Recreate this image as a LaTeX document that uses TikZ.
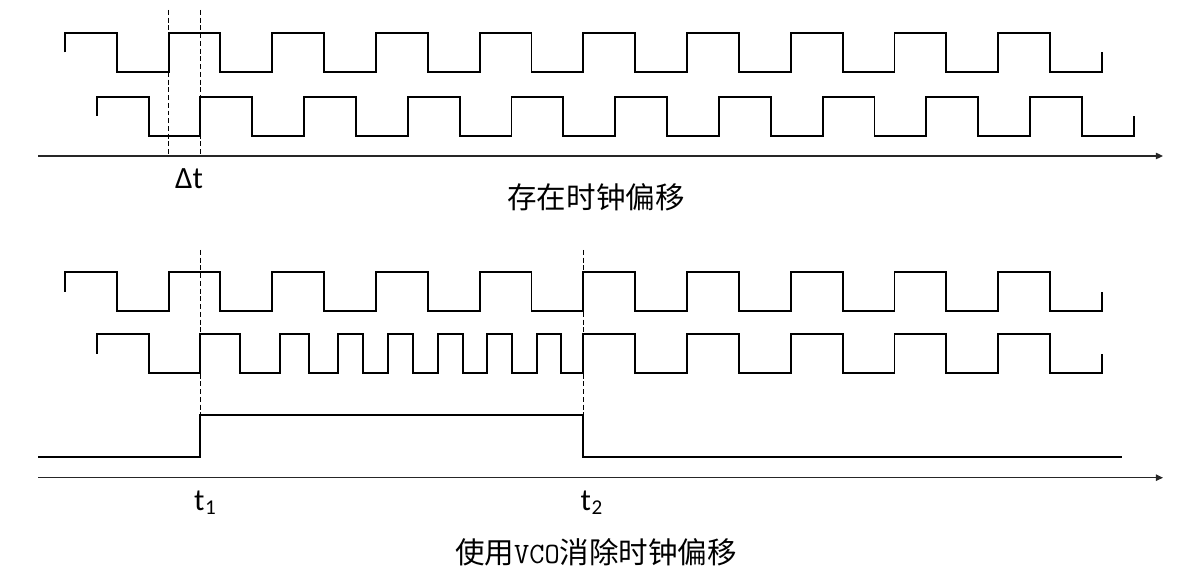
\documentclass[tikz,border=0pt]{standalone}
\usepackage{fontspec}
\setmainfont{Carlito}
\newfontfamily\cjk{Noto Sans CJK SC}
\usetikzlibrary{arrows.meta}
\newcommand{\hp}{51.85}
\newcommand{\tone}{200.4}
\newcommand{\ttwo}{583.35}
\newcommand{\tsub}[1]{\kern0.02em\raisebox{-0.14em}{\fontsize{15}{16}\selectfont #1}}
\tikzset{
  wave/.style={line width=1.35pt, black, line join=miter},
  axis/.style={line width=0.9pt, black!85, -{Triangle[length=5pt,width=4.5pt]}},
  guide/.style={line width=0.6pt, dash pattern=on 3.5pt off 2pt},
  tlabel/.style={font=\fontsize{22}{24}\selectfont, inner sep=0pt},
  caption/.style={font=\cjk\fontsize{21}{24}\selectfont, inner sep=0pt},
}
% n periods from a high level, then a last high/low pair and a half stub
\newcommand{\clkrun}[1]{%
  \foreach \k in {1,...,#1} { -- ++(\hp,0) -- ++(0,39) -- ++(\hp,0) -- ++(0,-39) }
  -- ++(\hp,0) -- ++(0,39) -- ++(\hp,0) -- ++(0,-19.5)}

\begin{document}
\begin{tikzpicture}[x=0.025cm, y=-0.025cm]
  \useasboundingbox (0,0) rectangle (1200,576);

  % ── With clock skew ───────────────────────────────────────────────────────
  \draw[wave] (64.85,52.5) -- (64.85,33) \clkrun{9};
  \draw[wave] (96.7,116) -- (96.7,96.7) \clkrun{9};

  \draw[guide] (168.55,10) -- (168.55,156);
  \draw[guide] (\tone,10) -- (\tone,156);

  \draw[axis] (38,156) -- (1163,156);
  \node[tlabel] (dt) at (189,179) {Δt};
  \node[caption] (skew) at (596,197.5) {存在时钟偏移};

  % ── With VCO correction ───────────────────────────────────────────────────
  \draw[wave] (64.85,291.8) -- (64.85,272.3) \clkrun{9};
  \draw[wave] (96.7,353.8) -- (96.7,334.3)
    \foreach \x/\y in {148.55/373.3, \tone/334.3, 240/373.3, 280/334.3,
                       309.3/373.3, 338.3/334.3, 363.3/373.3, 388.3/334.3,
                       413/373.3, 437.7/334.3, 462.7/373.3, 487.3/334.3,
                       512.3/373.3, 537.3/334.3, 561/373.3, \ttwo/334.3}
      { -| (\x,\y) } \clkrun{4};

  % enable window
  \draw[wave] (38,456.7) -| (\tone,415) -| (\ttwo,456.7) -- (1122.3,456.7);

  \draw[guide] (\tone,250) -- (\tone,415);
  \draw[guide] (\ttwo,250) -- (\ttwo,415);

  \draw[axis] (38,477.7) -- (1163,477.7);
  \node[tlabel] (t1) at (205,503) {t\tsub{1}};
  \node[tlabel] (t2) at (591.5,503) {t\tsub{2}};
  \node[caption] (vco) at (596,552) {使用{\ttfamily VCO}消除时钟偏移};

\end{tikzpicture}
\end{document}
